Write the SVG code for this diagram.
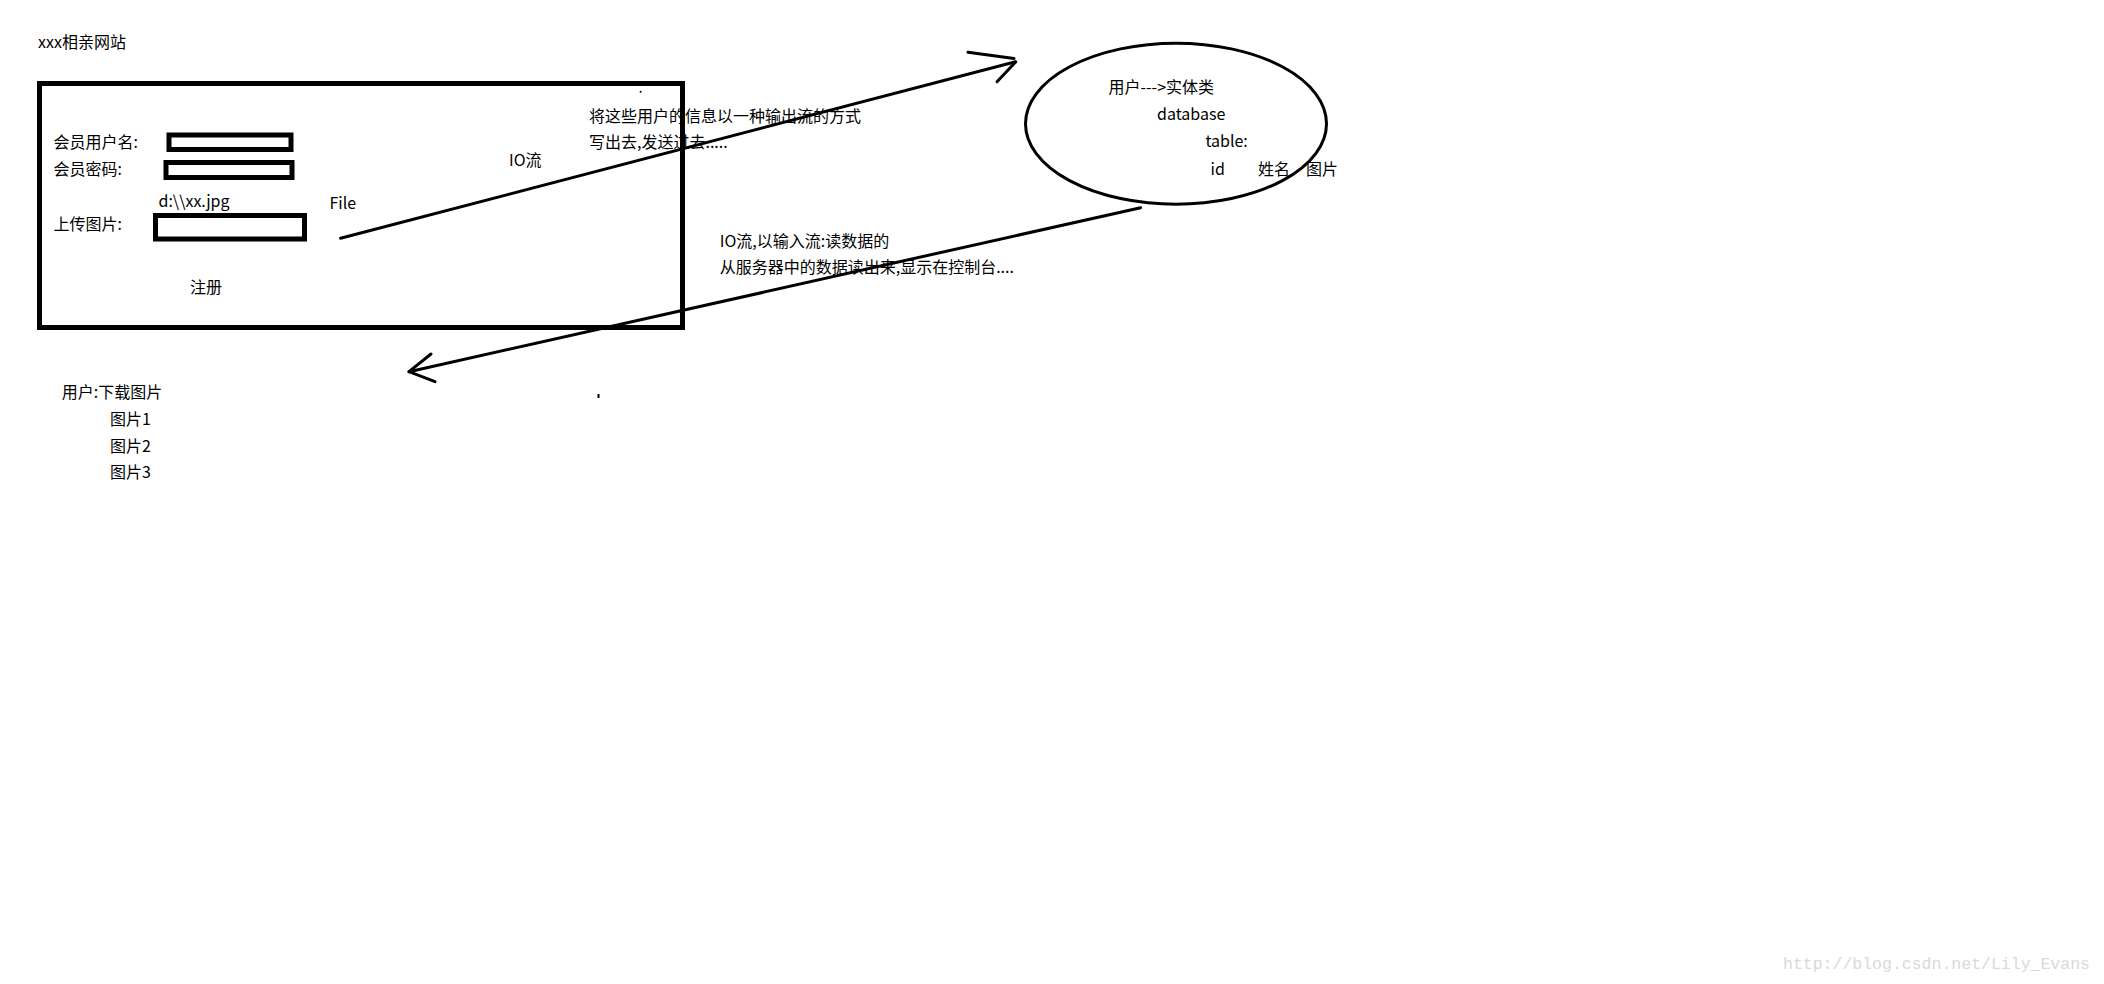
<svg xmlns="http://www.w3.org/2000/svg" width="2104" height="984" viewBox="0 0 2104 984">
<style>
text{font-family:"Noto Sans CJK SC","Liberation Sans",sans-serif;font-size:16px;fill:#000}
.box{fill:none;stroke:#000;stroke-width:5}
.ln{fill:none;stroke:#000;stroke-width:3;stroke-linecap:round;stroke-linejoin:round}
.wm{font-family:"Liberation Mono",monospace;font-size:16.5px;fill:#d9d9d9}
</style>
<rect width="2104" height="984" fill="#fff"/>
<g id="title"><text x="38" y="48">xxx相亲网站</text></g>
<g id="form">
<rect class="box" x="39.5" y="83.5" width="643" height="244"/>
<text x="53.6" y="148">会员用户名:</text>
<rect class="box" x="169" y="135" width="122" height="14.5"/>
<text x="53.6" y="175">会员密码:</text>
<rect class="box" x="166" y="162.5" width="126" height="15"/>
<text x="158.5" y="206.5">d:\\xx.jpg</text>
<text x="53.6" y="230">上传图片:</text>
<rect class="box" x="155.5" y="215.5" width="149" height="23.5"/>
<text x="329.5" y="209">File</text>
<text x="190" y="293">注册</text>
<circle cx="640.6" cy="91.7" r="1" fill="#000"/>
</g>
<g id="label-out">
<text x="509" y="166">IO流</text>
<text x="589" y="122">将这些用户的信息以一种输出流的方式</text>
<text x="589" y="148">写出去,发送过去.....</text>
</g>
<g id="database">
<ellipse cx="1176" cy="123.7" rx="150.5" ry="80.5" fill="none" stroke="#000" stroke-width="3"/>
<text x="1108.5" y="93.3">用户---&gt;实体类</text>
<text x="1157" y="120">database</text>
<text x="1205.4" y="146.7">table:</text>
<text x="1210.5" y="175">id</text>
<text x="1258" y="175">姓名</text>
<text x="1306" y="175">图片</text>
</g>
<g id="label-in">
<text x="719.7" y="246.7">IO流,以输入流:读数据的</text>
<text x="719.7" y="273.3">从服务器中的数据读出来,显示在控制台....</text>
</g>
<g id="download">
<text x="61.7" y="398.3">用户:下载图片</text>
<text x="110" y="425">图片1</text>
<text x="110" y="451.7">图片2</text>
<text x="110" y="478.3">图片3</text>
<rect x="597.5" y="394" width="2" height="4" fill="#000"/>
</g>
<g id="connectors">
<path class="ln" d="M340.6,238.3 L1015.6,61.7"/>
<path class="ln" d="M968,52.3 L1014,58.5 M1015.6,62 L997,81.7"/>
<path class="ln" d="M1140.6,207.7 L409,371.7"/>
<path class="ln" d="M431,354 L409,371.7 L435,381.7"/>
</g>
<text class="wm" x="1783" y="969">http://blog.csdn.net/Lily_Evans</text>
</svg>
